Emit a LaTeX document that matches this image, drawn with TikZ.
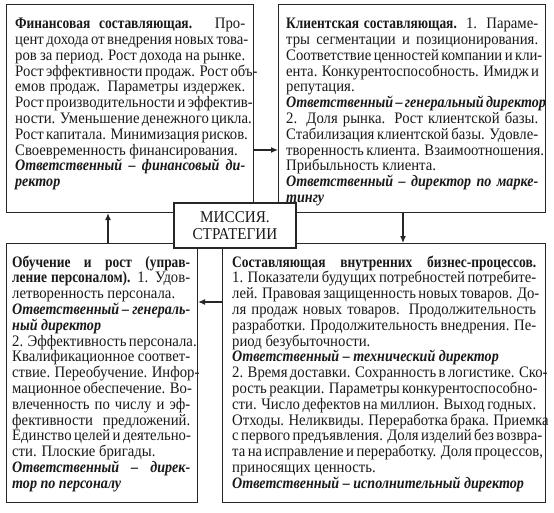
\documentclass[tikz,border=0pt]{standalone}
\usepackage{fontspec}
\setmainfont{Liberation Serif}[FakeStretch=0.92,
  BoldFeatures={FakeStretch=0.84},
  BoldItalicFeatures={FakeStretch=0.88}]
\usetikzlibrary{arrows.meta}
\newcommand\jl[1]{\hbox to\hsize{\strut#1}}
\newcommand\nl[1]{\hbox{\strut#1}}
\newcommand\resp[1]{\textbf{\textit{#1}}}
\newcommand\txtblock[2]{\vbox{\hsize=#1\relax\fontsize{16}{15.8}\selectfont\lineskiplimit=-20pt #2}}
\tikzset{
  panel/.style={draw=black!85, line width=1.2pt, fill=white, inner sep=0pt, anchor=north west},
  body/.style={anchor=north west, inner sep=0pt, text=black!90},
  link/.style={draw=black!85, line width=1.1pt, -{Latex[length=7pt,width=6pt]}},
  mission/.style={draw=black!85, line width=1.2pt, fill=white, inner sep=0pt,
    minimum width=122pt, minimum height=45pt, align=center,
    font=\fontsize{16.5}{17.7}\selectfont, text=black!90},
}
\begin{document}
\begin{tikzpicture}[x=1pt,y=-1pt]
\useasboundingbox[fill=white] (0,0) rectangle (554,513);
% panels
\node[panel, minimum width=247pt, minimum height=208pt] (tl) at (6,4) {};
\node[panel, minimum width=267pt, minimum height=208pt] (tr) at (278,4) {};
\node[panel, minimum width=191pt, minimum height=259pt] (bl) at (6,243) {};
\node[panel, minimum width=323pt, minimum height=259pt] (br) at (222,243) {};
% texts
\node[body] (tltext) at (15,17.4) {\txtblock{230pt}{%
\jl{\textbf{Финансовая составляющая.} Про-}
\jl{цент дохода от внедрения новых това-}
\jl{ров за период. Рост дохода на рынке.}
\jl{Рост эффективности продаж. Рост объ-}
\jl{емов продаж. Параметры издержек.}
\jl{Рост производительности и эффектив-}
\jl{ности. Уменьшение денежного цикла.}
\jl{Рост капитала. Минимизация рисков.}
\nl{Своевременность финансирования.}
\jl{\resp{Ответственный – финансовый ди-}}
\nl{\resp{ректор}}}};
\node[body] (trtext) at (286,17.4) {\txtblock{252pt}{%
\jl{\textbf{Клиентская составляющая.} 1. Параме-}
\jl{тры сегментации и позиционирования.}
\jl{Соответствие ценностей компании и кли-}
\jl{ента. Конкурентоспособность. Имидж и}
\nl{репутация.}
\jl{\resp{Ответственный – генеральный директор}}
\jl{2. Доля рынка. Рост клиентской базы.}
\jl{Стабилизация клиентской базы. Удовле-}
\jl{творенность клиента. Взаимоотношения.}
\nl{Прибыльность клиента.}
\jl{\resp{Ответственный – директор по марке-}}
\nl{\resp{тингу}}}};
\node[body] (bltext) at (12,255.4) {\txtblock{178pt}{%
\jl{\textbf{Обучение и рост (управ-}}
\jl{\textbf{ление персоналом).} 1. Удов-}
\nl{летворенность персонала.}
\jl{\resp{Ответственный – генераль-}}
\nl{\resp{ный директор}}
\jl{2. Эффективность персонала.}
\jl{Квалификационное соответ-}
\jl{ствие. Переобучение. Инфор-}
\jl{мационное обеспечение. Во-}
\jl{влеченность по числу и эф-}
\jl{фективности предложений.}
\jl{Единство целей и деятельно-}
\nl{сти. Плоские бригады.}
\jl{\resp{Ответственный – дирек-}}
\nl{\resp{тор по персоналу}}}};
\node[body] (brtext) at (232,255.4) {\txtblock{304pt}{%
\jl{\textbf{Составляющая внутренних бизнес-процессов.}}
\jl{1. Показатели будущих потребностей потребите-}
\jl{лей. Правовая защищенность новых товаров. До-}
\jl{ля продаж новых товаров. Продолжительность}
\jl{разработки. Продолжительность внедрения. Пе-}
\nl{риод безубыточности.}
\nl{\resp{Ответственный – технический директор}}
\jl{2. Время доставки. Сохранность в логистике. Ско-}
\jl{рость реакции. Параметры конкурентоспособно-}
\jl{сти. Число дефектов на миллион. Выход годных.}
\jl{Отходы. Неликвиды. Переработка брака. Приемка}
\jl{с первого предъявления. Доля изделий без возвра-}
\jl{та на исправление и переработку. Доля процессов,}
\nl{приносящих ценность.}
\nl{\resp{Ответственный – исполнительный директор}}}};
% connectors
\coordinate (a1) at (0,150);
\coordinate (a2) at (0,302);
\coordinate (a3) at (108,0);
\coordinate (a4) at (403,0);
\draw[link] (tl.east |- a1) -- (tr.west |- a1);
\draw[link] (br.west |- a2) -- (bl.east |- a2);
\draw[link] (bl.north -| a3) -- (tl.south -| a3);
\draw[link] (tr.south -| a4) -- (br.north -| a4);
% mission
\node[mission] (mis) at (235,225.5) {МИССИЯ.\\СТРАТЕГИИ};
\end{tikzpicture}
\end{document}
